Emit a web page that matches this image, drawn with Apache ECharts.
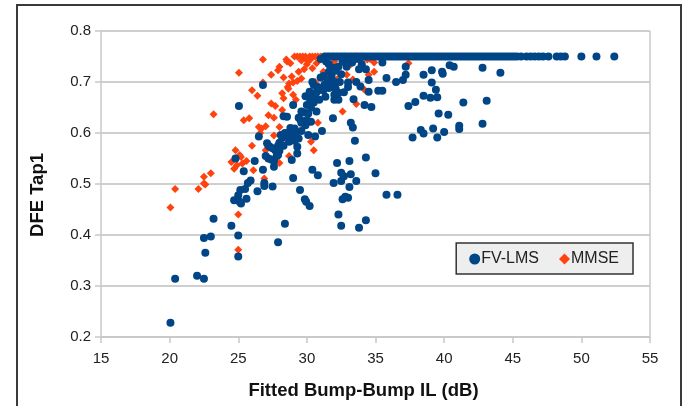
<!DOCTYPE html>
<html><head><meta charset="utf-8">
<script src="https://cdn.jsdelivr.net/npm/echarts@6/dist/echarts.min.js"></script>
<style>html,body{margin:0;padding:0;background:#fff}#c{width:685px;height:406px}
#frame{position:absolute;left:16px;top:4px;width:666px;height:420px;border:2px solid #3a3a3a;box-sizing:border-box;pointer-events:none}</style>
</head><body><div id="c"></div><div id="frame"></div>
<script>
const xTicks = [15, 20, 25, 30, 35, 40, 45, 50, 55];
const yTicks = [0.2, 0.3, 0.4, 0.5, 0.6, 0.7, 0.8];
const seriesNames = ['FV-LMS', 'MMSE'];

const fvLms = [
[20.06,0.228],[20.4,0.314],[22.0,0.320],[22.5,0.314],[22.6,0.365],[22.5,0.394],[23.0,0.397],[23.2,0.432],
[24.5,0.418],[25.0,0.399],[25.0,0.358],[25.05,0.653],[24.7,0.468],[24.8,0.55],[25.1,0.465],[25.2,0.462],
[25.0,0.478],[25.15,0.488],[25.4,0.525],[25.6,0.471],[25.5,0.49],[25.7,0.502],[25.9,0.507],[26.2,0.545],
[26.4,0.486],[26.5,0.593],[26.8,0.528],[26.8,0.694],[26.9,0.502],[26.9,0.496],[27.1,0.58],[27.2,0.55],
[27.4,0.548],[27.3,0.573],[27.5,0.495],[27.6,0.534],[27.7,0.566],[27.9,0.557],[27.9,0.386],[28.0,0.581],
[28.1,0.596],[28.4,0.422],[28.3,0.575],[28.3,0.633],[28.55,0.632],[28.65,0.600],[28.7,0.583],[28.9,0.547],
[29.0,0.512],[29.0,0.655],[29.1,0.609],[29.3,0.560],[29.3,0.573],[29.4,0.589],[29.5,0.488],[29.55,0.625],
[29.6,0.642],[29.6,0.604],[29.85,0.470],[29.9,0.672],[29.95,0.465],[30.1,0.638],[30.1,0.596],[30.2,0.457],
[30.2,0.681],[30.3,0.622],[30.4,0.528],[30.4,0.700],[30.5,0.694],[30.6,0.674],[30.6,0.593],[30.7,0.642],
[30.8,0.517],[30.9,0.665],[31.0,0.709],[31.1,0.604],[31.2,0.684],[31.35,0.671],[31.6,0.720],[31.8,0.697],
[31.9,0.629],[31.95,0.502],[32.0,0.665],[32.1,0.687],[32.2,0.541],[32.3,0.679],[32.3,0.440],[32.5,0.418],
[32.5,0.522],[32.5,0.506],[32.6,0.470],[32.7,0.515],[32.8,0.475],[32.85,0.737],[32.9,0.730],[33.0,0.699],
[33.0,0.473],[33.1,0.494],[33.1,0.545],[33.2,0.519],[33.2,0.620],[33.35,0.611],[33.4,0.666],[33.5,0.585],
[33.6,0.506],[33.8,0.414],[33.8,0.725],[33.9,0.691],[34.2,0.655],[34.3,0.552],[34.3,0.429],[34.5,0.681],
[34.5,0.704],[34.7,0.651],[35.0,0.521],[35.2,0.683],[35.5,0.738],[35.5,0.683],[35.8,0.479],[35.8,0.708],
[36.5,0.700],[36.6,0.479],[37.0,0.704],[37.2,0.714],[37.2,0.730],[37.4,0.653],[37.7,0.591],[37.9,0.661],
[38.3,0.606],[38.5,0.599],[38.5,0.714],[38.5,0.673],[39.0,0.669],[39.1,0.723],[39.1,0.699],[39.2,0.609],
[39.4,0.685],[39.5,0.670],[39.5,0.591],[39.6,0.638],[39.85,0.720],[39.9,0.716],[40.0,0.602],[40.3,0.636],
[40.4,0.733],[40.7,0.730],[41.1,0.614],[41.1,0.608],[41.4,0.660],[42.8,0.728],[42.8,0.618],[43.1,0.663],
[44.1,0.718],
[31.0,0.745],[31.4,0.740],[31.6,0.735],[31.9,0.728],[32.1,0.722],[32.3,0.730],[32.5,0.715],[32.6,0.740],
[32.8,0.745],[33.0,0.742],[33.3,0.738],[33.5,0.745],[31.2,0.712],[31.5,0.705],[31.8,0.712],[32.0,0.700],
[32.4,0.700],[30.8,0.690],[31.0,0.685],[30.5,0.660],[30.3,0.650],[29.8,0.640],[29.6,0.620],[29.9,0.615],
[30.0,0.625],[29.2,0.600],[28.9,0.590],[28.6,0.595],[28.4,0.600],[28.0,0.565],[27.8,0.555],[27.5,0.570],
[27.2,0.575],[27.6,0.545],[27.0,0.555],[32.0,0.675],[32.3,0.665],[32.7,0.680],[33.0,0.690],[33.6,0.700],
[34.0,0.735],[34.3,0.725],[33.8,0.745],[30.2,0.668],[30.7,0.680],[31.3,0.695],[31.6,0.688],[30.0,0.655],
[29.4,0.630],[28.8,0.610],[29.1,0.585],[28.2,0.590],[27.9,0.575],
[31.3,0.75],[31.5,0.75],[31.7,0.75],[31.9,0.75],[32.1,0.75],[32.3,0.75],[32.5,0.75],[32.7,0.75],
[32.9,0.75],[33.1,0.75],[33.3,0.75],[33.5,0.75],[33.7,0.75],[33.9,0.75],[34.1,0.75],[34.3,0.75],
[34.5,0.75],[34.7,0.75],[34.9,0.75],[35.1,0.75],[35.3,0.75],[35.5,0.75],[35.7,0.75],[35.9,0.75],
[36.1,0.75],[36.3,0.75],[36.5,0.75],[36.7,0.75],[36.9,0.75],[37.1,0.75],[37.3,0.75],[37.5,0.75],
[37.7,0.75],[37.9,0.75],[38.1,0.75],[38.3,0.75],[38.5,0.75],[38.7,0.75],[38.9,0.75],[39.1,0.75],
[39.3,0.75],[39.5,0.75],[39.7,0.75],[39.9,0.75],[40.1,0.75],[40.3,0.75],[40.5,0.75],[40.7,0.75],
[40.9,0.75],[41.1,0.75],[41.3,0.75],[41.5,0.75],[41.7,0.75],[41.9,0.75],[42.1,0.75],[42.3,0.75],
[42.5,0.75],[42.7,0.75],[42.9,0.75],[43.1,0.75],[43.3,0.75],[43.5,0.75],[43.7,0.75],[43.9,0.75],
[44.1,0.75],[44.3,0.75],[44.5,0.75],[44.7,0.75],[44.9,0.75],[45.1,0.75],[45.3,0.75],[45.6,0.75],
[46.0,0.75],[46.3,0.75],[46.6,0.75],[46.9,0.75],[47.2,0.75],[47.6,0.75],[48.2,0.75],[48.5,0.75],
[48.8,0.75],[50.0,0.75],[51.1,0.75],[52.4,0.75]
];

const mmse = [
[20.06,0.454],[20.4,0.490],[22.1,0.490],[22.5,0.501],[22.6,0.499],[22.5,0.514],[23.0,0.521],[23.2,0.637],
[24.5,0.543],[24.8,0.566],[24.7,0.530],[24.9,0.537],[25.1,0.557],[25.2,0.553],[25.3,0.540],[25.0,0.440],
[25.0,0.371],[25.05,0.718],[25.4,0.625],[25.8,0.629],[26.1,0.527],[26.0,0.684],[26.4,0.673],[26.5,0.612],
[26.7,0.609],[26.8,0.699],[26.8,0.744],[26.9,0.511],[27.0,0.613],[27.0,0.566],[27.2,0.635],[27.4,0.714],
[27.4,0.658],[27.6,0.595],[27.7,0.653],[27.8,0.543],[27.9,0.723],[28.0,0.730],[28.0,0.612],[28.0,0.541],
[28.2,0.678],[28.3,0.668],[28.3,0.709],[28.5,0.744],[28.55,0.740],[28.65,0.687],[28.7,0.697],[28.7,0.555],
[28.8,0.737],[28.9,0.711],[29.0,0.699],[29.2,0.665],[29.3,0.702],[29.6,0.707],[29.8,0.725],[29.9,0.746],
[30.1,0.740],[30.2,0.657],[30.3,0.583],[30.4,0.727],[30.5,0.566],[30.7,0.737],[31.7,0.696],[32.0,0.694],
[32.2,0.705],[32.6,0.642],[32.9,0.714],[33.1,0.746],[33.35,0.705],[33.6,0.657],[34.2,0.685],[34.4,0.744],
[34.5,0.714],[34.9,0.738],[34.9,0.720],[37.4,0.737],
[29.1,0.75],[29.3,0.75],[29.5,0.75],[29.7,0.75],[29.9,0.75],[30.2,0.75],[30.4,0.75],[30.6,0.75],
[30.8,0.75],[31.0,0.75],[31.3,0.75],[31.6,0.75],[31.9,0.75],[32.2,0.75],[32.5,0.75],[32.8,0.75],
[33.2,0.75],[33.6,0.75],[34.0,0.75],[29.6,0.742],[30.0,0.735],[30.3,0.745],[31.5,0.745],[32.0,0.740],
[33.2,0.735],[34.0,0.730],[34.6,0.745],[29.4,0.72],[30.6,0.70],[31.2,0.72],[28.6,0.69],[29.0,0.675],
[27.6,0.63],[28.2,0.645],[26.6,0.60],[25.6,0.545],[26.0,0.575],[30.8,0.62]
];

const chart = echarts.init(document.getElementById('c'), null, {renderer: 'canvas'});
const txt = {color: '#222', fontFamily: 'Liberation Sans, Arial, sans-serif', fontSize: 15};
chart.setOption({
  animation: false,
  backgroundColor: '#fff',
  grid: {left: 101, right: 35, top: 31, bottom: 69},
  legend: {
    data: [{name: seriesNames[0], icon: 'circle'}, {name: seriesNames[1], icon: 'diamond'}],
    right: 52, top: 243, itemWidth: 11, itemHeight: 11, itemGap: 20,
    padding: [8, 14, 7, 13],
    backgroundColor: '#eeeeee', borderColor: '#333', borderWidth: 1.5,
    textStyle: Object.assign({}, txt, {fontSize: 16, padding: [0, 0, 0, -4]})
  },
  xAxis: {
    type: 'value', min: 15, max: 55, interval: 5,
    name: 'Fitted Bump-Bump IL (dB)', nameLocation: 'middle', nameGap: 44,
    nameTextStyle: Object.assign({}, txt, {fontSize: 18.5, fontWeight: 'bold', color: '#111', padding: [0, 24, 0, 0]}),
    axisLine: {show: true, lineStyle: {color: '#c8c8c8', width: 1.5}},
    axisTick: {show: true, length: 6, lineStyle: {color: '#c8c8c8', width: 1.5}},
    axisLabel: Object.assign({}, txt, {margin: 14, formatter: v => xTicks.includes(v) ? String(v) : ''}),
    splitLine: {show: false}
  },
  yAxis: {
    type: 'value', min: 0.2, max: 0.8, interval: 0.1,
    name: 'DFE Tap1', nameLocation: 'middle', nameGap: 54, nameRotate: 90,
    nameTextStyle: Object.assign({}, txt, {fontSize: 18.5, fontWeight: 'bold', color: '#111', padding: [0, 22, 0, 0]}),
    axisLine: {show: true, lineStyle: {color: '#c8c8c8', width: 1.5}},
    axisTick: {show: true, length: 6, lineStyle: {color: '#c8c8c8', width: 1.5}},
    axisLabel: Object.assign({}, txt, {margin: 10, formatter: v => {
      const t = yTicks.find(k => Math.abs(k - v) < 1e-6); return t === undefined ? '' : t.toFixed(1);
    }}),
    splitLine: {show: true, lineStyle: {color: '#cfcfcf', width: 2}}
  },
  graphic: [{
    type: 'line', shape: {x1: 650, y1: 31, x2: 650, y2: 337},
    style: {stroke: '#c8c8c8', lineWidth: 1.5}, z: 1
  }],
  series: [
    {
      name: seriesNames[0], type: 'scatter', data: fvLms, symbol: 'circle', symbolSize: 8,
      itemStyle: {color: '#004586', opacity: 1}, z: 3
    },
    {
      name: seriesNames[1], type: 'scatter', data: mmse, symbol: 'diamond', symbolSize: 8,
      itemStyle: {color: '#ff420e', opacity: 1}, z: 2
    }
  ]
});
</script></body></html>
